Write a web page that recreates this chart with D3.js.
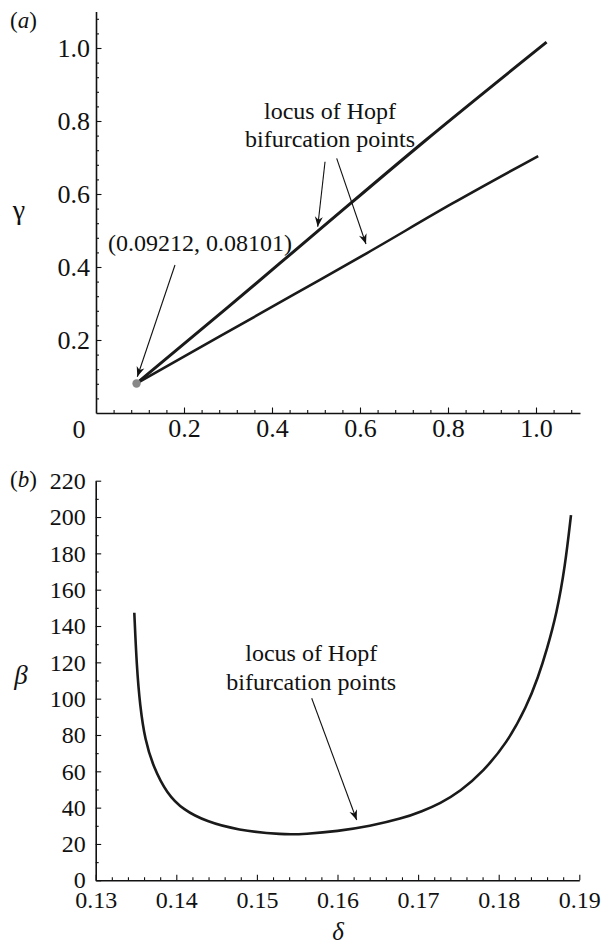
<!DOCTYPE html>
<html>
<head>
<meta charset="utf-8">
<script src="https://cdn.jsdelivr.net/npm/d3@7"></script>
<style>
  body { margin: 0; background: #fff; }
  text { font-family: "Liberation Serif", "Times New Roman", serif; fill: #111; }
</style>
</head>
<body>
<svg id="chart"></svg>
<script>
// Figure size
const svgWidth = 605;
const svgHeight = 946;

// Panel (a): loci of Hopf points in (x, gamma)
const upperLocus = [[0.0921, 0.0810], [0.30, 0.290], [0.50, 0.494], [0.75, 0.748], [1.024, 1.016]];
const lowerLocus = [[0.0921, 0.0810], [0.28, 0.209], [0.45, 0.325], [0.615, 0.4375], [0.81, 0.574], [1.005, 0.704]];
const cuspPoint = [0.09212, 0.08101];
const aMajorTicks = [0.2, 0.4, 0.6, 0.8, 1.0];

// Panel (b): locus of Hopf points in (delta, beta)
const deltaValues = [0.13479, 0.13509, 0.13550, 0.13612, 0.13715, 0.13881, 0.14087, 0.14377, 0.14749,
  0.1533, 0.1560, 0.1600, 0.1640, 0.1680, 0.1705, 0.17272, 0.17520, 0.17809, 0.18099, 0.18347,
  0.18492, 0.18596, 0.18720, 0.18823, 0.18897];
const betaValues = [147.3, 117.6, 96.0, 77.2, 62.5, 47.9, 38.7, 32.3, 27.7,
  25.0, 25.5, 27.0, 29.8, 34.0, 38.0, 42.3, 48.8, 60.0, 75.4, 95.6,
  112.1, 126.8, 147.0, 172.6, 201.1];
const bXTicks = [0.13, 0.14, 0.15, 0.16, 0.17, 0.18, 0.19];
const bYTicks = [0, 20, 40, 60, 80, 100, 120, 140, 160, 180, 200, 220];

const svg = d3.select('#chart')
  .attr('width', svgWidth)
  .attr('height', svgHeight);

// arrow head
svg.append('defs').append('marker')
  .attr('id', 'head')
  .attr('viewBox', '-1 -5 12 10')
  .attr('refX', 10).attr('refY', 0)
  .attr('markerWidth', 12).attr('markerHeight', 10)
  .attr('markerUnits', 'userSpaceOnUse')
  .attr('orient', 'auto')
  .append('path')
  .attr('d', 'M0,-4 L10,0 L0,4 L3,0 Z')
  .style('fill', '#111');

function range(a, b, step) {
  const out = [];
  for (let v = a; v <= b + 1e-9; v += step) out.push(+v.toFixed(6));
  return out;
}

// draws bottom + left axes with inward major/minor ticks
function drawAxes(x, y, opt) {
  const g = svg.append('g');
  const y0 = y.range()[0], x0 = x.range()[0];

  g.append('g').attr('class', 'minor').attr('transform', `translate(0,${y0})`)
    .call(d3.axisBottom(x).tickValues(opt.xMinor).tickSize(-3).tickSizeOuter(0).tickFormat(''));
  g.append('g').attr('transform', `translate(0,${y0})`)
    .call(d3.axisBottom(x).tickValues(opt.xMajor).tickSize(-5.5).tickSizeOuter(0)
      .tickPadding(opt.xPad).tickFormat(opt.xFormat));
  g.append('g').attr('class', 'minor').attr('transform', `translate(${x0},0)`)
    .call(d3.axisLeft(y).tickValues(opt.yMinor).tickSize(-3).tickSizeOuter(0).tickFormat(''));
  g.append('g').attr('transform', `translate(${x0},0)`)
    .call(d3.axisLeft(y).tickValues(opt.yMajor).tickSize(-5.5).tickSizeOuter(0)
      .tickPadding(opt.yPad).tickFormat(opt.yFormat));

  g.selectAll('.minor .domain').remove();
  g.selectAll('.domain').style('stroke', '#111').style('stroke-width', 1.6);
  g.selectAll('.tick line').style('stroke', '#111').style('stroke-width', 1.1);
  g.selectAll('text')
    .style('font-family', '"Liberation Serif", "Times New Roman", serif')
    .style('font-size', opt.fontSize + 'px')
    .style('fill', '#111');
}

function arrow(x, y, from, to) {
  svg.append('line')
    .attr('x1', x(from[0])).attr('y1', y(from[1]))
    .attr('x2', x(to[0])).attr('y2', y(to[1]))
    .attr('marker-end', 'url(#head)')
    .style('stroke', '#111')
    .style('stroke-width', 1.1);
}

function label(x, y, pos, txt, size) {
  return svg.append('text')
    .attr('x', x(pos[0])).attr('y', y(pos[1]))
    .attr('text-anchor', 'middle')
    .style('font-size', size + 'px')
    .text(txt);
}

// ---------- panel (a) ----------
const xa = d3.scaleLinear().domain([0, 1.1]).range([96, 580]);
const ya = d3.scaleLinear().domain([0, 1.1]).range([413, 11.5]);

const aMinor = range(0.04, 1.08, 0.04).filter(v => Math.abs(v * 5 - Math.round(v * 5)) > 1e-6);
drawAxes(xa, ya, {
  xMajor: aMajorTicks, yMajor: aMajorTicks,
  xMinor: aMinor, yMinor: aMinor,
  xFormat: d3.format('.1f'), yFormat: d3.format('.1f'),
  xPad: 6, yPad: 6, fontSize: 26
});

const lineA = d3.line().x(d => xa(d[0])).y(d => ya(d[1])).curve(d3.curveMonotoneX);

svg.append('path').datum(upperLocus)
  .attr('d', lineA)
  .style('fill', 'none').style('stroke', '#1a1a1a').style('stroke-width', 3);
svg.append('path').datum(lowerLocus)
  .attr('d', lineA)
  .style('fill', 'none').style('stroke', '#1a1a1a').style('stroke-width', 2.6);

svg.append('circle')
  .attr('cx', xa(cuspPoint[0])).attr('cy', ya(cuspPoint[1]))
  .attr('r', 4.2)
  .style('fill', '#888');

// shared origin label
svg.append('text').attr('x', 79).attr('y', 438)
  .attr('text-anchor', 'middle').style('font-size', '26px').text('0');

label(xa, ya, [0.2364, 0.4425], '(0.09212, 0.08101)', 24);
arrow(xa, ya, [0.1795, 0.4055], [0.0939, 0.0994]);

label(xa, ya, [0.5318, 0.8047], 'locus of Hopf', 24);
label(xa, ya, [0.5318, 0.7279], 'bifurcation points', 24);
arrow(xa, ya, [0.5205, 0.6885], [0.5039, 0.5104]);
arrow(xa, ya, [0.5470, 0.6978], [0.6136, 0.4630]);

svg.append('text').attr('x', 10).attr('y', 28).style('font-size', '23px')
  .html('(<tspan font-style="italic">a</tspan>)');
svg.append('text').attr('x', 19).attr('y', 219).attr('text-anchor', 'middle')
  .style('font-size', '28px').text('γ');

// ---------- panel (b) ----------
const xb = d3.scaleLinear().domain([0.13, 0.19]).range([95.7, 579.3]);
const yb = d3.scaleLinear().domain([0, 220]).range([880.3, 480.7]);

drawAxes(xb, yb, {
  xMajor: bXTicks, yMajor: bYTicks,
  xMinor: range(0.132, 0.188, 0.002).filter(v => Math.abs(v * 100 - Math.round(v * 100)) > 1e-6),
  yMinor: range(10, 210, 20),
  xFormat: d3.format('.2f'), yFormat: d3.format('d'),
  xPad: 11, yPad: 10, fontSize: 24
});

const hopfB = deltaValues.map((d, i) => [d, betaValues[i]]);
svg.append('path').datum(hopfB)
  .attr('d', d3.line().x(d => xb(d[0])).y(d => yb(d[1])).curve(d3.curveBasis))
  .style('fill', 'none').style('stroke', '#1a1a1a').style('stroke-width', 2.6);

label(xb, yb, [0.15674, 120.9], 'locus of Hopf', 24);
label(xb, yb, [0.15674, 104.8], 'bifurcation points', 24);
arrow(xb, yb, [0.15680, 100.2], [0.16238, 33.2]);

svg.append('text').attr('x', 10).attr('y', 487).style('font-size', '23px')
  .html('(<tspan font-style="italic">b</tspan>)');
svg.append('text').attr('x', 21).attr('y', 684).attr('text-anchor', 'middle')
  .style('font-size', '27px').style('font-style', 'italic').text('β');
svg.append('text').attr('x', 338).attr('y', 940).attr('text-anchor', 'middle')
  .style('font-size', '25px').style('font-style', 'italic').text('δ');
</script>
</body>
</html>
